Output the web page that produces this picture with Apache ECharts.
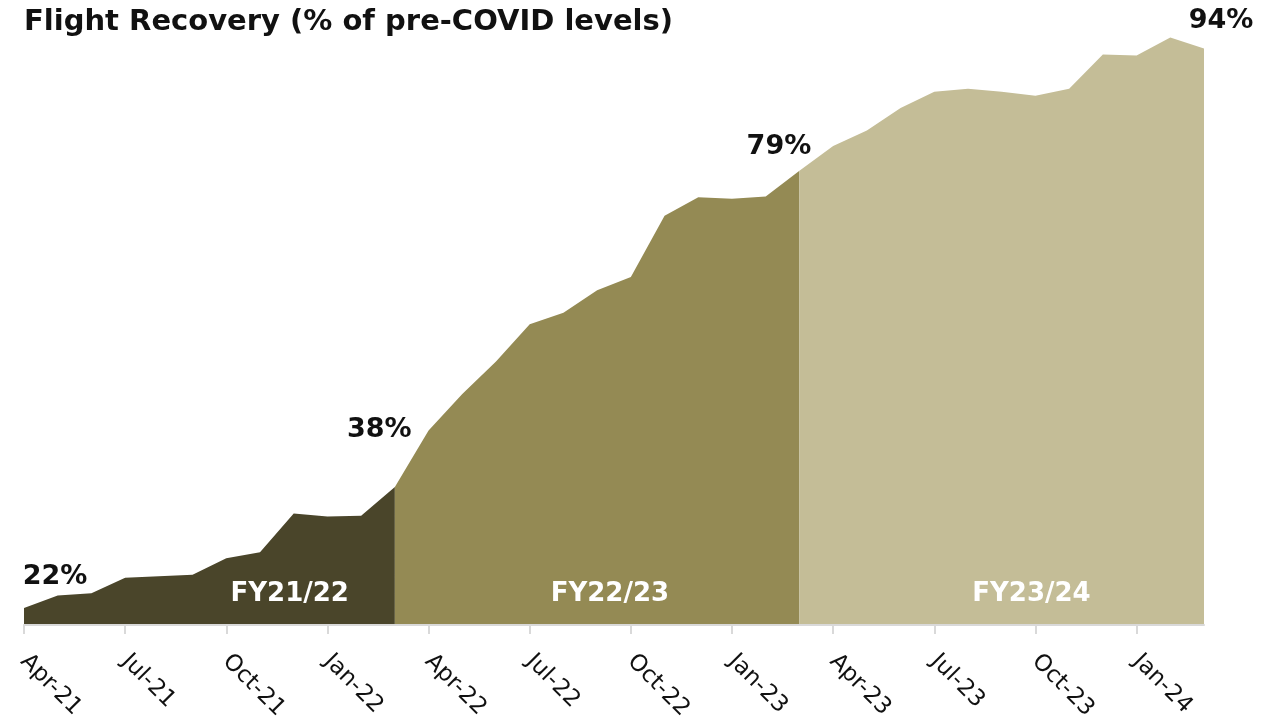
<!DOCTYPE html>
<html>
<head>
<meta charset="utf-8">
<script src="https://cdn.jsdelivr.net/npm/echarts@6/dist/echarts.min.js"></script>
<style>html,body{margin:0;padding:0;background:#fff}#c{width:1284px;height:726px}</style>
</head>
<body>
<div id="c"></div>
<script>
const months = ['Apr-21','May-21','Jun-21','Jul-21','Aug-21','Sep-21','Oct-21','Nov-21','Dec-21','Jan-22','Feb-22','Mar-22',
  'Apr-22','May-22','Jun-22','Jul-22','Aug-22','Sep-22','Oct-22','Nov-22','Dec-22','Jan-23','Feb-23','Mar-23',
  'Apr-23','May-23','Jun-23','Jul-23','Aug-23','Sep-23','Oct-23','Nov-23','Dec-23','Jan-24','Feb-24','Mar-24'];
const recovery = [22.2,23.8,24.1,26.1,26.3,26.5,28.6,29.4,34.4,34.0,34.1,37.8,
  45.1,49.8,54.0,58.8,60.3,63.2,64.9,72.8,75.2,75.0,75.3,78.6,
  81.8,83.8,86.7,88.8,89.2,88.8,88.3,89.2,93.6,93.5,95.8,94.4];
const fiscalYears = [
  {name:'FY21/22', from:0, to:11, labelAt:8, shift:-4},
  {name:'FY22/23', from:11, to:23, labelAt:18, shift:-21},
  {name:'FY23/24', from:23, to:35, labelAt:30, shift:-4}
];
const calloutLabels = [
  {index:0, text:'22%', owner:0},
  {index:11, text:'38%', owner:0},
  {index:23, text:'79%', owner:1},
  {index:35, text:'94%', owner:2}
];
const colors = ['#4A452A','#948A54','#C4BD97'];
const calloutOffsets = {0:[31,-31],11:[-15.5,-57],23:[-20.5,-24],35:[17,-27]};

const chart = echarts.init(document.getElementById('c'), null, {renderer:'canvas'});
const series = fiscalYears.map((fy, k) => {
  const data = recovery.map((v, i) => {
    if (i < fy.from || i > fy.to) return null;
    const c = calloutLabels.find(c => c.index === i && c.owner === k);
    if (c) {
      return {value: v, label: {show: true, formatter: c.text, position: 'inside',
        offset: calloutOffsets[i], fontSize: 27, fontWeight: 'bold', color: '#111',
        fontFamily: 'DejaVu Sans'}};
    }
    return v;
  });
  return {
    type: 'line', name: fy.name, data: data, symbol: 'circle', symbolSize: 2,
    showSymbol: true, itemStyle: {color: 'rgba(0,0,0,0)', borderWidth: 0},
    lineStyle: {width: 0, color: colors[k]},
    areaStyle: {color: colors[k], opacity: 1, origin: 'start'},
    connectNulls: false, silent: true, z: 2 + k,
    markPoint: {
      symbol: 'circle', symbolSize: 0, silent: true,
      data: [{coord: [months[fy.labelAt], 24], value: fy.name}],
      label: {show: true, formatter: fy.name, color: '#fff', fontSize: 26, fontWeight: 'bold',
        fontFamily: 'DejaVu Sans', position: 'inside', offset: [fy.shift, 0]}
    }
  };
});

chart.setOption({
  animation: false,
  backgroundColor: '#fff',
  title: {text: 'Flight Recovery (% of pre-COVID levels)', left: 19, top: 3,
    textStyle: {fontFamily: 'DejaVu Sans', fontWeight: 'bold', fontSize: 29, color: '#111'}},
  grid: {left: 24, right: 80, top: 5, bottom: 101, containLabel: false},
  xAxis: {type: 'category', data: months, boundaryGap: false,
    axisLine: {lineStyle: {color: '#d9d9d9', width: 2}},
    axisTick: {interval: 2, length: 9, lineStyle: {color: '#d9d9d9', width: 2}},
    axisLabel: {interval: 2, rotate: -45, fontSize: 23, color: '#111', fontFamily: 'DejaVu Sans', margin: 33},
    z: 10},
  yAxis: {type: 'value', min: 20, max: 100, show: false, splitLine: {show: false}},
  series: series
});
</script>
</body>
</html>
